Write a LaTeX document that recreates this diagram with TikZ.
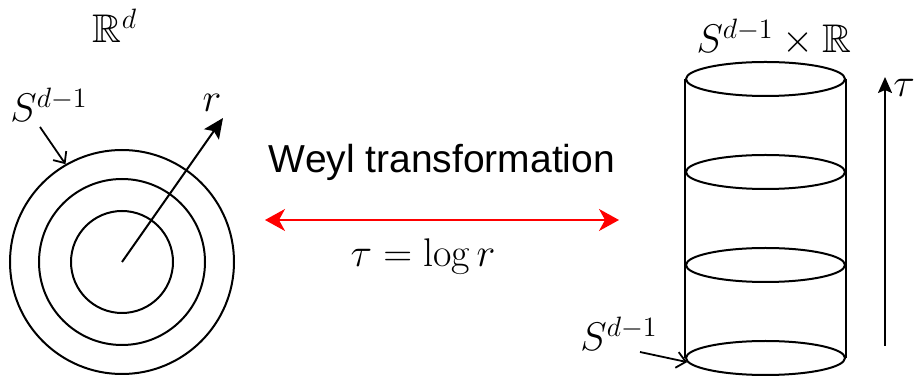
\RequirePackage{fix-cm}
\documentclass[tikz,border=0pt]{standalone}
\usepackage{amssymb}
\usepackage{fontspec}
\newfontfamily\helv{Liberation Sans}
\usetikzlibrary{arrows.meta,shapes.geometric}
\begin{document}
\begin{tikzpicture}[x=0.5pt,y=-0.5pt,
  thick line/.style={line width=1pt},
  ring/.style={circle,draw,line width=1pt,inner sep=0pt},
  disc/.style={ellipse,draw,line width=1pt,inner sep=0pt,minimum width=79.5pt,minimum height=17pt},
  mlab/.style={inner sep=0pt,font=\fontsize{20}{24}\selectfont},
  pointer/.style={line width=0.9pt,-{Straight Barb[length=4.5pt,width=8pt,line width=0.9pt]}},
  bigarrow/.style={line width=1pt,-{Stealth[length=10pt,width=9pt,inset=2pt]}},
  tauarrow/.style={line width=1pt,-{Stealth[length=8pt,width=7pt,inset=1.5pt]}},
  redarrow/.style={draw=red,line width=0.8pt,{Stealth[length=10pt,width=11pt,inset=3pt]}-{Stealth[length=10pt,width=11pt,inset=3pt]}}]
\useasboundingbox (0,0) rectangle (914,378);

% ---- left: R^d with spheres ----
\coordinate (c) at (122,262);
\node[ring,minimum size=51pt]  (inner)  at (c) {};
\node[ring,minimum size=83pt]  (middle) at (c) {};
\node[ring,minimum size=112pt] (outer)  at (c) {};
\coordinate (rtip) at (223,118);
\draw[bigarrow] (c) -- (rtip);
\node[mlab] (rlab) at (212,103) {$r$};
\node[mlab,anchor=base] (Rd) at (115,43) {$\mathbb{R}^d$};
\node[mlab,anchor=base] (Sleft) at (49,122) {$S^{d-1}$};
\coordinate (sstart) at (40,127);
\draw[pointer] (sstart) -- (outer.120);

% ---- middle ----
\node[inner sep=0pt,anchor=base,font=\helv\fontsize{19.5}{23}\selectfont] (weyl) at (442,173) {Weyl transformation};
\coordinate (la) at (265,220);
\coordinate (ra) at (619,220);
\draw[redarrow] (la) -- (ra);
\node[mlab,anchor=base] (tlog) at (423,267) {$\tau = \log r$};

% ---- right: cylinder ----
\node[disc] (e1) at (765.5,79) {};
\node[disc] (e2) at (765.5,172) {};
\node[disc] (e3) at (765.5,265) {};
\node[disc] (e4) at (765.5,358) {};
\draw[thick line] (e1.west) -- (e4.west);
\draw[thick line] (e1.east) -- (e4.east);
\node[mlab,anchor=base] (SR) at (774,53) {$S^{d-1}\times\mathbb{R}$};
\node[mlab,anchor=base] (Sbot) at (619,351) {$S^{d-1}$};
\coordinate (bstart) at (640,352);
\draw[pointer] (bstart) -- (e4.183);
\coordinate (tb) at (885,346);
\coordinate (tt) at (885,77);
\draw[tauarrow] (tb) -- (tt);
\node[mlab,anchor=west] (taulab) at (893,88) {$\tau$};
\end{tikzpicture}
\end{document}
